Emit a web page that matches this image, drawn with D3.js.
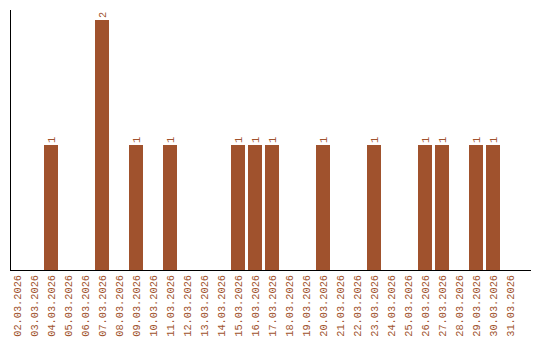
<!DOCTYPE html>
<html>
<head>
<meta charset="utf-8">
<script src="https://cdn.jsdelivr.net/npm/d3@7"></script>
<style>
  body { margin: 0; background: #fff; }
  svg { display: block; }
</style>
</head>
<body>
<svg></svg>
<script>
var days = ['02.03.2026','03.03.2026','04.03.2026','05.03.2026','06.03.2026','07.03.2026',
	'08.03.2026','09.03.2026','10.03.2026','11.03.2026','12.03.2026','13.03.2026','14.03.2026',
	'15.03.2026','16.03.2026','17.03.2026','18.03.2026','19.03.2026','20.03.2026','21.03.2026',
	'22.03.2026','23.03.2026','24.03.2026','25.03.2026','26.03.2026','27.03.2026','28.03.2026',
	'29.03.2026','30.03.2026','31.03.2026'];
var counts = [0,0,1,0,0,2,0,1,0,1,0,0,0,1,1,1,0,0,1,0,0,1,0,0,1,1,0,1,1,0];

var w = 540, h = 340;
var color = '#a0522d';
var font = '"Liberation Mono", "Courier New", monospace';

var svg = d3.select('svg').attr('width', w).attr('height', h);

// 17px step, 14px bars, first bar at x=10
var x = d3.scaleBand()
	.domain(days)
	.range([10, 10 + 17 * 30 - 3])
	.paddingInner(3 / 17)
	.paddingOuter(0);

var y = d3.scaleLinear().domain([0, 2]).range([270, 20]);

var bars = svg.append('g');

bars.selectAll('rect')
	.data(days)
	.enter().append('rect')
	.attr('x', function(d) { return x(d); })
	.attr('width', x.bandwidth())
	.attr('y', function(d, i) { return y(counts[i]); })
	.attr('height', function(d, i) { return y(0) - y(counts[i]); })
	.attr('fill', color);

bars.selectAll('text')
	.data(days.filter(function(d, i) { return counts[i] > 0; }))
	.enter().append('text')
	.attr('transform', function(d) {
		return 'translate(' + (x(d) + x.bandwidth() / 2 + 3.5) + ',' + (y(counts[days.indexOf(d)]) - 2) + ') rotate(-90)';
	})
	.attr('font-family', font)
	.attr('font-size', 10.3)
	.attr('fill', color)
	.text(function(d) { return counts[days.indexOf(d)]; });

// axes
svg.append('line')
	.attr('x1', 10.5).attr('x2', 10.5)
	.attr('y1', 10).attr('y2', 270)
	.attr('stroke', '#000');

svg.append('line')
	.attr('x1', 10).attr('x2', 531)
	.attr('y1', 270.5).attr('y2', 270.5)
	.attr('stroke', '#000');

svg.append('g').selectAll('text')
	.data(days)
	.enter().append('text')
	.attr('transform', function(d) {
		return 'translate(' + (x(d) + x.bandwidth() / 2 + 3.5) + ',275) rotate(-90)';
	})
	.attr('text-anchor', 'end')
	.attr('font-family', font)
	.attr('font-size', 10.3)
	.attr('fill', color)
	.text(function(d) { return d; });
</script>
</body>
</html>
